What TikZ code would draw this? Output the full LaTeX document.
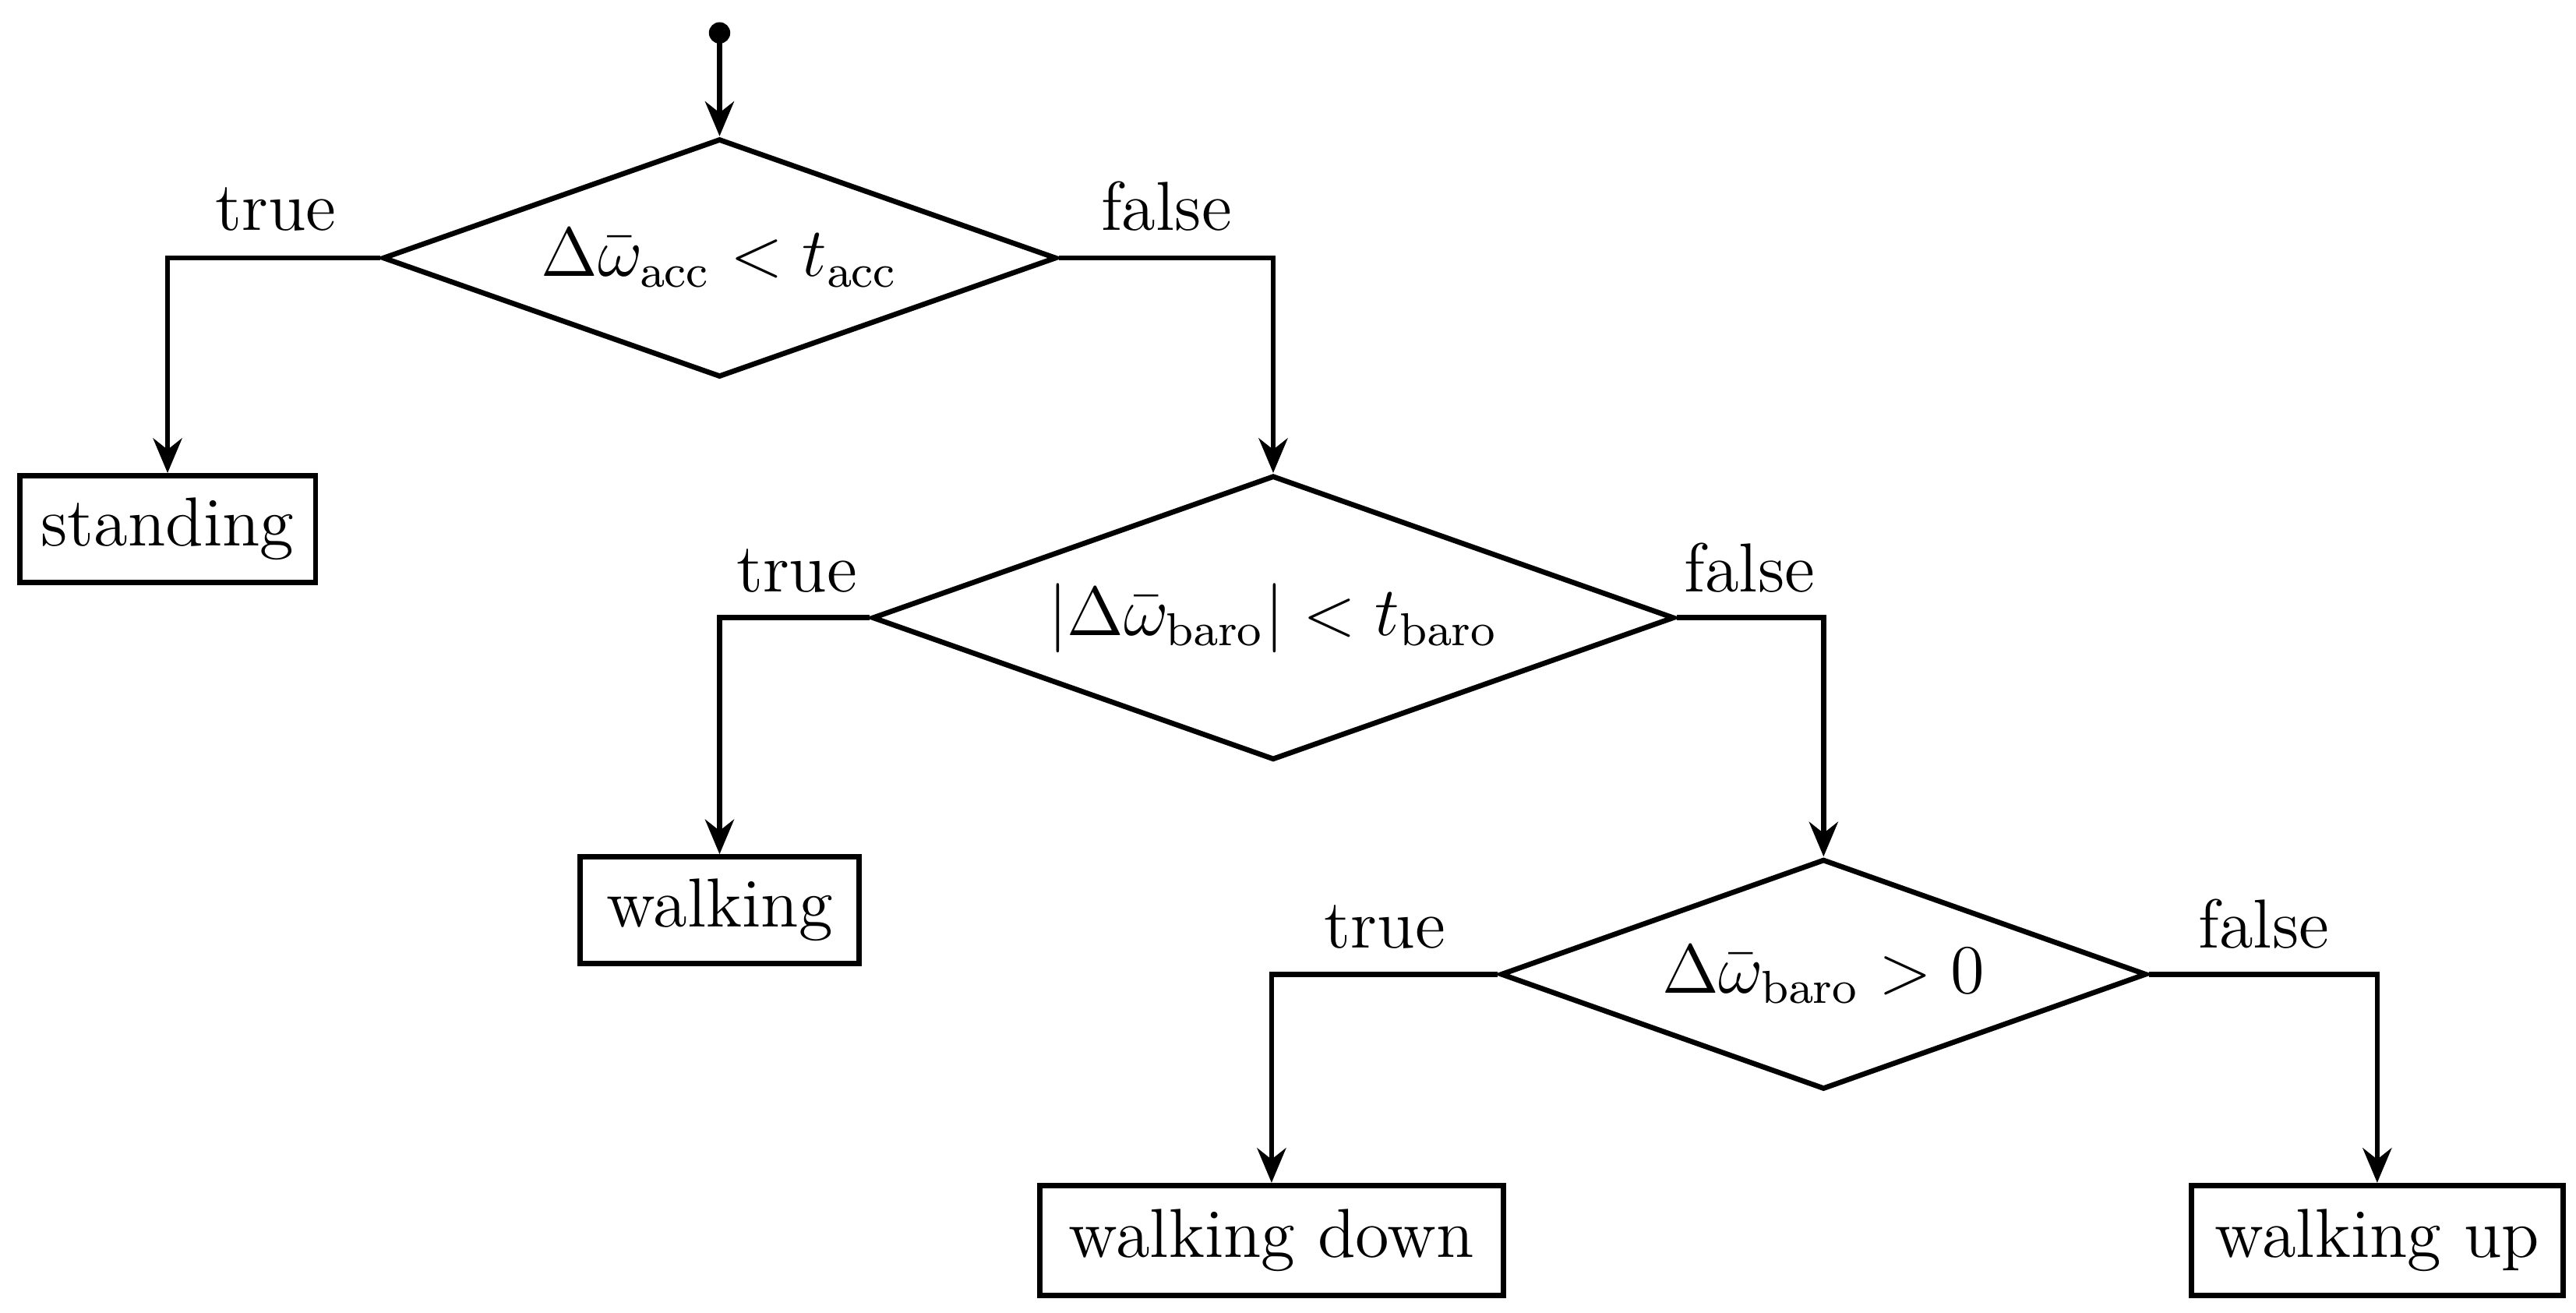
\documentclass[tikz,border=0pt]{standalone}
\usetikzlibrary{shapes.geometric,arrows.meta}
\begin{document}
\begin{tikzpicture}[x=0.01cm,y=-0.01cm,
  every node/.style={font=\fontsize{12}{14}\selectfont},
  dec/.style={draw,diamond,aspect=2.82,line width=0.9pt,inner sep=0pt},
  box/.style={draw,rectangle,line width=0.9pt,inner sep=0pt},
  con/.style={line width=0.9pt,-{Stealth[length=6pt,width=5pt]}},
  lab/.style={anchor=base}]
\useasboundingbox (0,0) rectangle (1568,799);
\fill (438,20) circle (0.065cm);
\coordinate (s) at (438,20);
\node[dec,minimum width=4.10cm,minimum height=1.45cm] (d1) at (438,157) {$\Delta\bar{\omega}_{\mathrm{acc}} < t_{\mathrm{acc}}$};
\node[dec,minimum width=4.88cm,minimum height=1.73cm] (d2) at (775,376) {$|\Delta\bar{\omega}_{\mathrm{baro}}| < t_{\mathrm{baro}}$};
\node[dec,minimum width=3.93cm,minimum height=1.40cm] (d3) at (1110,593) {$\Delta\bar{\omega}_{\mathrm{baro}} > 0$};
\node[box,minimum width=1.80cm,minimum height=0.65cm] (b1) at (102,322) {standing};
\node[box,minimum width=1.70cm,minimum height=0.65cm] (b2) at (438,554) {walking};
\node[box,minimum width=2.82cm,minimum height=0.67cm] (b3) at (774,755) {walking down};
\node[box,minimum width=2.26cm,minimum height=0.67cm] (b4) at (1447,755) {walking up};
\draw[con] (s) -- (d1.north);
\draw[con] (d1.west) -| (b1.north);
\draw[con] (d1.east) -| (d2.north);
\draw[con] (d2.west) -| (b2.north);
\draw[con] (d2.east) -| (d3.north);
\draw[con] (d3.west) -| (b3.north);
\draw[con] (d3.east) -| (b4.north);
\node[lab] (t1) at (168,140) {true};
\node[lab] (f1) at (710,140) {false};
\node[lab] (t2) at (485,360) {true};
\node[lab] (f2) at (1065,360) {false};
\node[lab] (t3) at (843,577) {true};
\node[lab] (f3) at (1378,577) {false};
\end{tikzpicture}
\end{document}
